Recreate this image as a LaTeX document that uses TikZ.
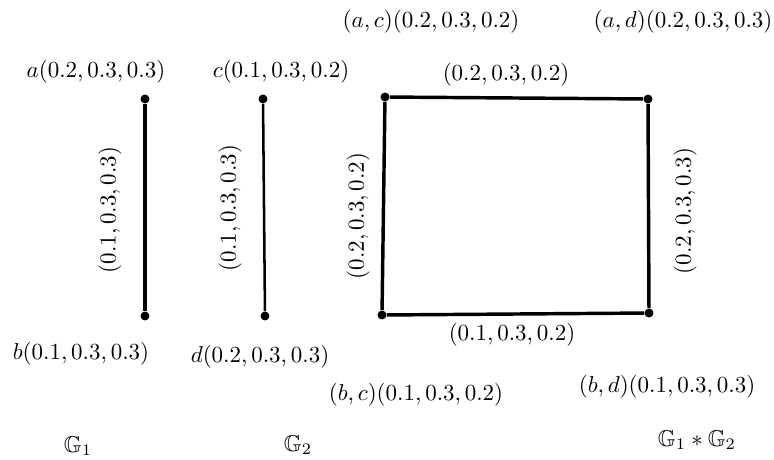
\documentclass[tikz,border=0pt]{standalone}
\usepackage{amssymb}
\begin{document}
\begin{tikzpicture}[x=0.435pt,y=-0.435pt,
  vtx/.style={circle,fill=black,inner sep=0pt,minimum size=3.9pt},
  lab/.style={inner sep=0pt},
  edgeA/.style={line width=1.5pt},
  edgeB/.style={line width=1.1pt}]
\useasboundingbox (0,0) rectangle (774,459);
% G1
\node[vtx] (a) at (145,99) {};
\node[vtx] (b) at (145,316) {};
\draw[edgeA] (a) -- (b);
\node[lab] (la) at (96,72) {$a(0.2,0.3,0.3)$};
\node[lab] (lb) at (81,354) {$b(0.1,0.3,0.3)$};
\node[lab,rotate=90] (lab1) at (110,210) {$(0.1,0.3,0.3)$};
\node[lab] (g1) at (78,446) {$\mathbb{G}_1$};
% G2
\node[vtx] (c) at (263,99) {};
\node[vtx] (d) at (265,316) {};
\draw[edgeB] (c) -- (d);
\node[lab] (lc) at (281,72) {$c(0.1,0.3,0.2)$};
\node[lab] (ld) at (260,357) {$d(0.2,0.3,0.3)$};
\node[lab,rotate=90] (lab2) at (230,208) {$(0.1,0.3,0.3)$};
\node[lab] (g2) at (298,445) {$\mathbb{G}_2$};
% G1 * G2
\node[vtx] (ac) at (385,97) {};
\node[vtx] (ad) at (648,99) {};
\node[vtx] (bc) at (382,315) {};
\node[vtx] (bd) at (649,313) {};
\draw[edgeA] (ac) -- (ad);
\draw[edgeA] (ad) -- (bd);
\draw[edgeA] (bd) -- (bc);
\draw[edgeA] (bc) -- (ac);
\node[lab] (lac) at (431,22) {$(a,c)(0.2,0.3,0.2)$};
\node[lab] (lad) at (683,22) {$(a,d)(0.2,0.3,0.3)$};
\node[lab] (lbc) at (416,395) {$(b,c)(0.1,0.3,0.2)$};
\node[lab] (lbd) at (667,387) {$(b,d)(0.1,0.3,0.3)$};
\node[lab] (etop) at (506,75) {$(0.2,0.3,0.2)$};
\node[lab] (ebot) at (512,335) {$(0.1,0.3,0.2)$};
\node[lab,rotate=90] (eleft) at (358,216) {$(0.2,0.3,0.2)$};
\node[lab,rotate=90] (eright) at (685,211) {$(0.2,0.3,0.3)$};
\node[lab] (g12) at (697,440) {$\mathbb{G}_1*\mathbb{G}_2$};
\end{tikzpicture}
\end{document}
